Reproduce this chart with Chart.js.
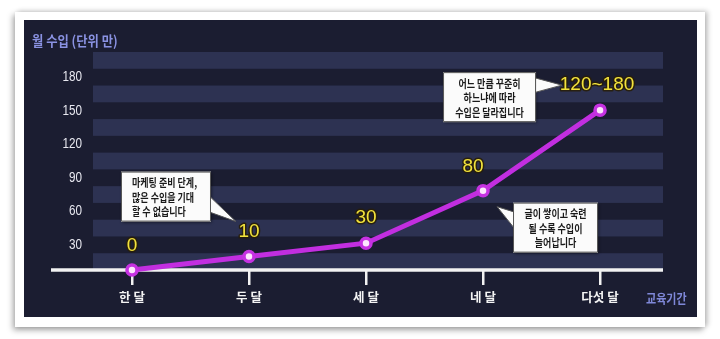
<!DOCTYPE html>
<html>
<head>
<meta charset="utf-8">
<script src="https://cdn.jsdelivr.net/npm/chart.js@4.4.1/dist/chart.umd.min.js"></script>
<style>
  html, body { margin: 0; padding: 0; background: #fff; width: 720px; height: 339px; overflow: hidden; }
  .card { position: absolute; left: 15px; top: 12px; width: 690px; height: 315px; background: #fff;
          box-shadow: -2px 3px 6px rgba(0,0,0,0.35), 3px -1px 5px rgba(0,0,0,0.2); }
  .panel { position: absolute; left: 24px; top: 20px; width: 673px; height: 297px; background: #1b1d31; }
</style>
</head>
<body>
<div class="card"></div>
<div class="panel"><canvas id="myChart"></canvas></div>
<script>
// 데이터
const categories = ['한 달', '두 달', '세 달', '네 달', '다섯 달'];
const income = [0, 12, 24, 71, 143];
const valueLabels = ['0', '10', '30', '80', '120~180'];
const yTickLabels = [30, 60, 90, 120, 150, 180];
const noteA = ['마케팅 준비 단계,', '많은 수입을 기대', '할 수 없습니다'];
const noteB = ['어느 만큼 꾸준히', '하느냐에 따라', '수입은 달라집니다'];
const noteC = ['글이 쌓이고 숙련', '될 수록 수입이', '늘어납니다'];
const yTitle = '월 수입 (단위 만)';
const xTitle = '교육기간';

// 라벨 위치 (점 기준 오프셋)
const labelOffsets = [[0, -24], [0, -25], [0, -25], [-10, -24], [-3, -25]];

function squashText(ctx, text, x, y, sx) {
  ctx.save();
  ctx.translate(x, y);
  ctx.scale(sx, 1);
  ctx.fillText(text, 0, 0);
  ctx.restore();
}

function drawNote(ctx, box, tri, lines, align) {
  ctx.save();
  ctx.shadowColor = 'rgba(0,0,0,0.55)';
  ctx.shadowBlur = 3;
  ctx.shadowOffsetX = 1;
  ctx.shadowOffsetY = 1;
  ctx.fillStyle = '#fbfbfb';
  ctx.fillRect(box[0], box[1], box[2], box[3]);
  ctx.restore();
  ctx.strokeStyle = '#555';
  ctx.lineWidth = 1;
  ctx.strokeRect(box[0] + 0.5, box[1] + 0.5, box[2] - 1, box[3] - 1);
  // 말풍선 꼬리
  ctx.fillStyle = '#fbfbfb';
  ctx.beginPath();
  ctx.moveTo(tri[0][0], tri[0][1]);
  ctx.lineTo(tri[2][0], tri[2][1]);
  ctx.lineTo(tri[1][0], tri[1][1]);
  ctx.closePath();
  ctx.fill();
  ctx.beginPath();
  ctx.moveTo(tri[0][0], tri[0][1]);
  ctx.lineTo(tri[2][0], tri[2][1]);
  ctx.lineTo(tri[1][0], tri[1][1]);
  ctx.stroke();

  ctx.fillStyle = '#1a1a1a';
  ctx.font = 'bold 11px "Noto Sans CJK KR"';
  ctx.textBaseline = 'middle';
  const mid = box[1] + box[3] / 2 + 1;
  lines.forEach((t, i) => {
    const y = mid + (i - 1) * 14.5;
    if (align === 'left') {
      ctx.textAlign = 'left';
      squashText(ctx, t, box[0] + 11, y, 0.82);
    } else {
      ctx.textAlign = 'center';
      squashText(ctx, t, box[0] + box[2] / 2, y, 0.82);
    }
  });
}

const decor = {
  id: 'decor',
  beforeDatasetsDraw(chart) {
    const ctx = chart.ctx;
    const a = chart.chartArea;
    const ys = chart.scales.y;
    // 줄무늬 배경
    ctx.save();
    ctx.fillStyle = '#2d3252';
    for (let v = 0; v < ys.max; v += 30) {
      const top = ys.getPixelForValue(v + 15);
      const bot = ys.getPixelForValue(v);
      ctx.fillRect(a.left, top, a.right - a.left, bot - top);
    }
    // 세로축 눈금 라벨 (줄무늬 사이 가운데)
    ctx.fillStyle = '#e8e8f0';
    ctx.font = '15px "Liberation Sans", Arial';
    ctx.textAlign = 'right';
    ctx.textBaseline = 'middle';
    yTickLabels.forEach(v => {
      const y = (ys.getPixelForValue(v) + ys.getPixelForValue(v - 15)) / 2;
      squashText(ctx, String(v), a.left - 11, y, 0.78);
    });
    // 가로축 선
    ctx.strokeStyle = '#f2f2f2';
    ctx.lineWidth = 3.5;
    ctx.beginPath();
    ctx.moveTo(a.left - 42, a.bottom);
    ctx.lineTo(a.right, a.bottom);
    ctx.stroke();
    ctx.restore();
  },
  afterDatasetsDraw(chart) {
    const ctx = chart.ctx;
    const pts = chart.getDatasetMeta(0).data;
    ctx.save();
    // 값 라벨
    ctx.font = '19px "Liberation Sans", Arial';
    ctx.textAlign = 'center';
    ctx.textBaseline = 'middle';
    ctx.lineJoin = 'round';
    pts.forEach((p, i) => {
      const x = p.x + labelOffsets[i][0];
      const y = p.y + labelOffsets[i][1];
      ctx.strokeStyle = 'rgba(40,30,10,0.9)';
      ctx.lineWidth = 3;
      ctx.strokeText(valueLabels[i], x, y);
      ctx.fillStyle = '#f3e33c';
      ctx.fillText(valueLabels[i], x, y);
    });

    // 말풍선
    const p1 = pts[1], p3 = pts[3], p4 = pts[4];
    drawNote(ctx, [p1.x - 128, p1.y - 85, 90, 50],
      [[p1.x - 38, p1.y - 59], [p1.x - 38, p1.y - 44], [p1.x - 13, p1.y - 35]], noteA, 'left');
    drawNote(ctx, [p4.x - 157, p4.y - 38, 93, 50],
      [[p4.x - 64, p4.y - 32], [p4.x - 64, p4.y - 18], [p4.x - 38, p4.y - 25]], noteB, 'center');
    drawNote(ctx, [p3.x + 30, p3.y + 12, 85, 50],
      [[p3.x + 30, p3.y + 21], [p3.x + 30, p3.y + 36], [p3.x + 14, p3.y + 16]], noteC, 'center');

    // 축 제목
    ctx.fillStyle = '#8a92e2';
    ctx.font = 'bold 14px "Noto Sans CJK KR"';
    ctx.textAlign = 'left';
    ctx.textBaseline = 'middle';
    squashText(ctx, yTitle, 8, 21, 0.88);
    ctx.fillStyle = '#7f88d8';
    ctx.font = 'bold 13px "Noto Sans CJK KR"';
    squashText(ctx, xTitle, 622, 278, 0.85);
    ctx.restore();
  }
};

const ctx = document.getElementById('myChart').getContext('2d');
const myChart = new Chart(ctx, {
  type: 'line',
  data: {
    datasets: [{
      data: income.map((v, i) => ({ x: i, y: v })),
      borderColor: '#c22ee0',
      borderWidth: 5,
      tension: 0,
      pointRadius: 5,
      pointBorderWidth: 3.5,
      pointBackgroundColor: '#fde6fd',
      pointBorderColor: '#c632e2',
      clip: false
    }]
  },
  options: {
    responsive: true,
    maintainAspectRatio: false,
    animation: false,
    layout: { autoPadding: false, padding: { top: 32, right: 34, bottom: 0, left: 0 } },
    plugins: { legend: { display: false }, tooltip: { enabled: false } },
    scales: {
      x: {
        type: 'linear',
        min: -0.333,
        max: 4.538,
        afterBuildTicks: s => { s.ticks = categories.map((c, i) => ({ value: i })); },
        afterFit: s => { s.height = 47; },
        border: { display: false },
        grid: { drawOnChartArea: false, drawTicks: true, tickLength: 15, color: '#f2f2f2', lineWidth: 2.5 },
        ticks: {
          callback: v => categories[v],
          color: '#f4f4f4',
          font: { family: '"Noto Sans CJK KR"', size: 12.5, weight: 'bold' },
          padding: 5,
          maxRotation: 0,
          autoSkip: false
        }
      },
      y: {
        min: 0,
        max: 195,
        afterFit: s => { s.width = 69; },
        border: { display: false },
        grid: { display: false, drawTicks: false },
        ticks: { stepSize: 15, display: false }
      }
    }
  },
  plugins: [decor]
});
</script>
</body>
</html>
